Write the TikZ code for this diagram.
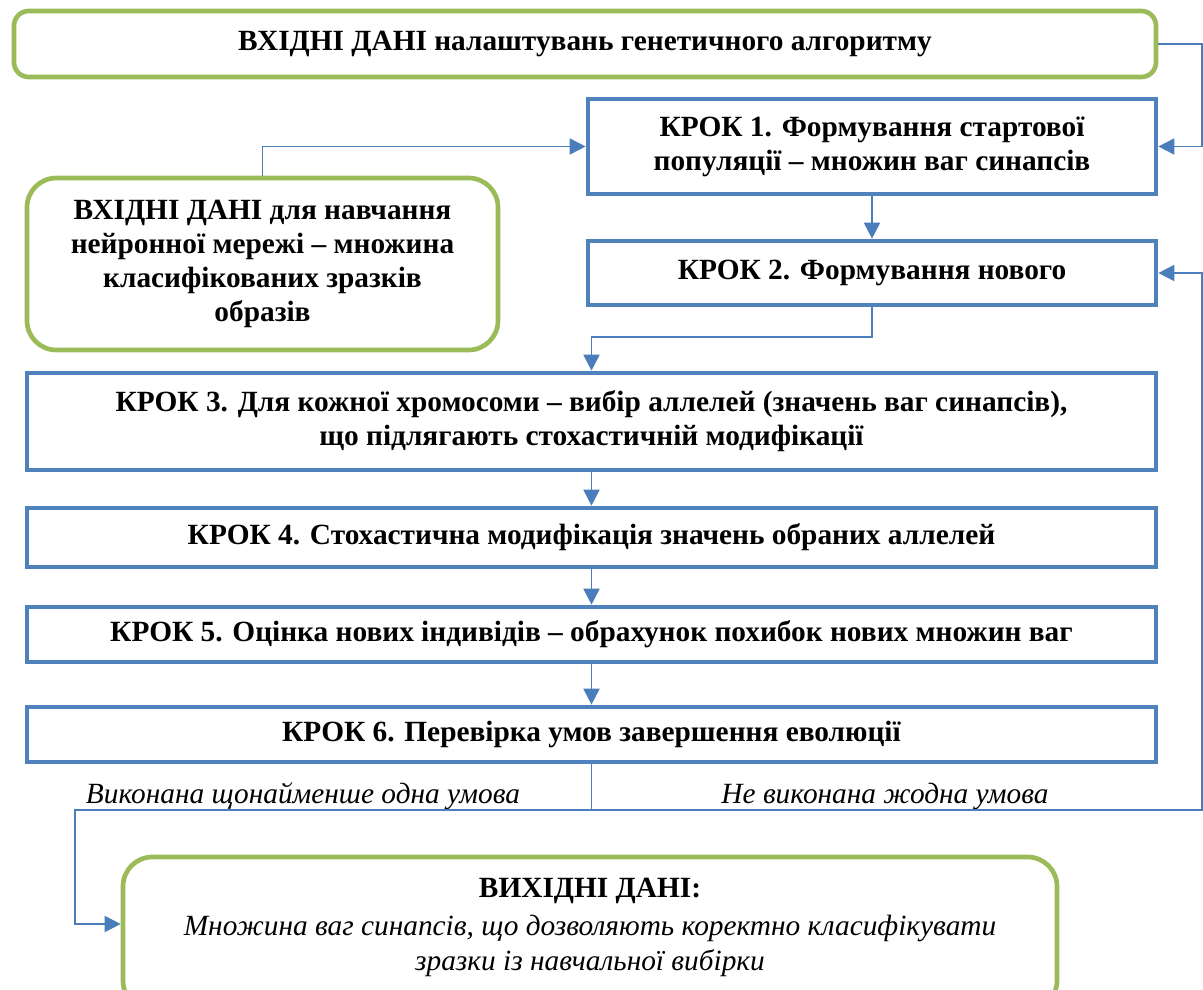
\documentclass[tikz,border=0pt]{standalone}
\usepackage{fontspec}
\setmainfont{Liberation Serif}
\usetikzlibrary{arrows.meta}
\definecolor{boxblue}{HTML}{4F81BD}
\definecolor{boxgreen}{HTML}{9BBB59}
\definecolor{lineblue}{HTML}{4A7EBB}
\tikzset{
  txt/.style={font=\fontsize{22}{25.5}\selectfont, align=center, inner sep=0pt},
  greenbox/.style={txt, draw=boxgreen, line width=3.5pt, rounded corners=11pt},
  bluebox/.style={txt, draw=boxblue, line width=3.5pt, font=\fontsize{22}{25.5}\selectfont\bfseries},
  conn/.style={draw=lineblue, line width=1.4pt},
  arr/.style={conn, -{Triangle[length=12pt,width=12pt]}},
  lbl/.style={txt, font=\fontsize{22}{25.5}\selectfont\itshape}
}
\begin{document}
\begin{tikzpicture}[x=0.75pt,y=-0.75pt]
\useasboundingbox (0,0) rectangle (1203,989);
\clip (0,0) rectangle (1203,989);
\fill[white] (0,0) rectangle (1203,989);
\coordinate (rt) at (1202,0);
% nodes
\node[greenbox, minimum width=856.5pt, minimum height=49.5pt, font=\fontsize{22}{25.5}\selectfont\bfseries] (in1) at (585,44) {ВХІДНІ ДАНІ налаштувань генетичного алгоритму};
\node[bluebox, minimum width=426pt, minimum height=71.25pt] (s1) at (872,146.5) {КРОК 1. Формування стартової\\популяції – множин ваг синапсів};
\node[greenbox, rounded corners=22pt, minimum width=353.25pt, minimum height=129pt, font=\fontsize{22}{25.5}\selectfont\bfseries] (in2) at (262.5,264) {ВХІДНІ ДАНІ для навчання\\нейронної мережі – множина\\класифікованих зразків\\образів};
\node[bluebox, minimum width=426pt, minimum height=48pt] (s2) at (872,273) {КРОК 2. Формування нового};
\node[bluebox, minimum width=846.75pt, minimum height=72.75pt] (s3) at (591.5,421.5) {КРОК 3. Для кожної хромосоми – вибір аллелей (значень ваг синапсів),\\що підлягають стохастичній модифікації};
\node[bluebox, minimum width=846.75pt, minimum height=44.25pt] (s4) at (591.5,537.5) {КРОК 4. Стохастична модифікація значень обраних аллелей};
\node[bluebox, minimum width=846.75pt, minimum height=41.25pt] (s5) at (591.5,634.5) {КРОК 5. Оцінка нових індивідів – обрахунок похибок нових множин ваг};
\node[bluebox, minimum width=846.75pt, minimum height=41.25pt] (s6) at (591.5,734.5) {КРОК 6. Перевірка умов завершення еволюції};
\node[greenbox, rounded corners=22pt, minimum width=700.5pt, minimum height=114.75pt] (out) at (590,933.5) {};
\node[txt, font=\fontsize{22}{25.5}\selectfont\bfseries] (o1) at (590,891) {ВИХІДНІ ДАНІ:};
\node[lbl] (o2) at (590,928) {Множина ваг синапсів, що дозволяють коректно класифікувати};
\node[lbl] (o3) at (590,963) {зразки із навчальної вибірки};
\node[lbl] (l1) at (303,796) {Виконана щонайменше одна умова};
\node[lbl] (l2) at (885,796) {Не виконана жодна умова};
% connectors
\coordinate (k1) at (872,337);
\coordinate (j) at (591.5,810);
\coordinate (b1) at (75,810);
\coordinate (b2) at (75,924);
\draw[arr] (in1.east) -- (in1.east -| rt) |- (s1.east);
\draw[arr] (in2.north) |- (s1.west);
\draw[arr] (s1.south) -- (s2.north);
\draw[arr] (s2.south) -- (k1) -| (s3.north);
\draw[arr] (s3.south) -- (s4.north);
\draw[arr] (s4.south) -- (s5.north);
\draw[arr] (s5.south) -- (s6.north);
\draw[conn] (s6.south) -- (j);
\draw[arr] (j) -- (j -| rt) |- (s2.east);
\draw[arr] (j) -- (b1) -- (b2) -- (out.west |- b2);
\end{tikzpicture}
\end{document}
